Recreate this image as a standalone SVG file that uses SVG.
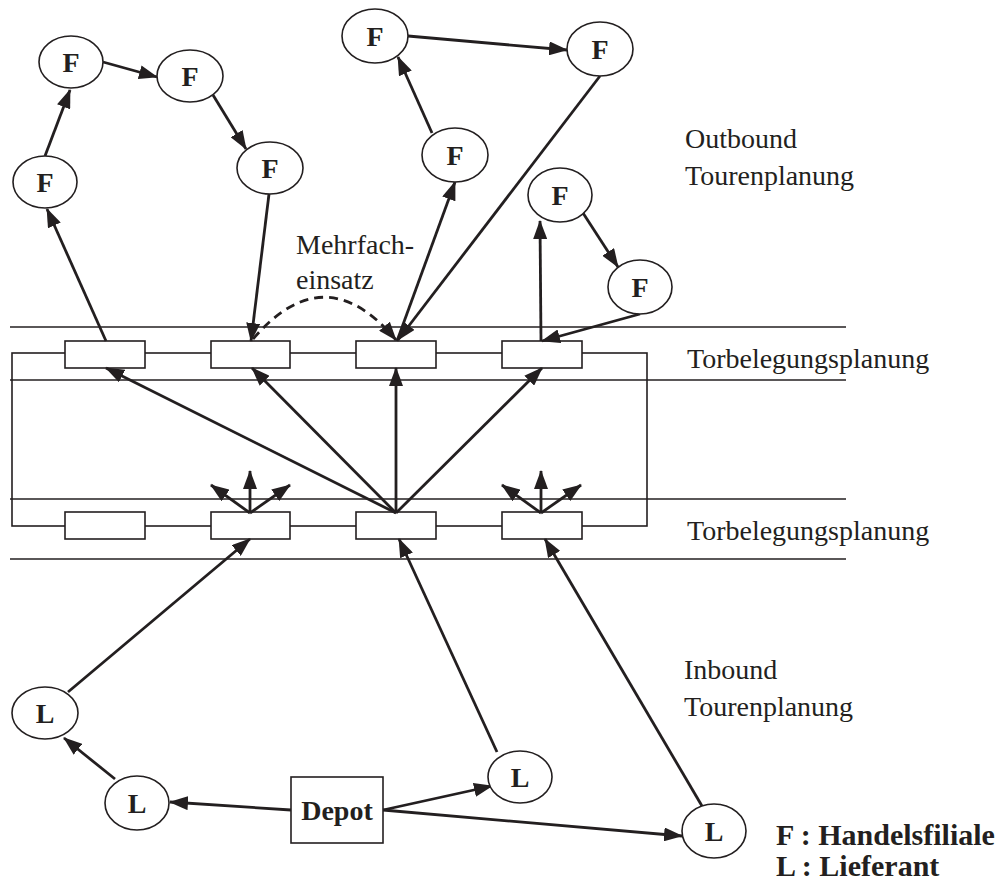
<svg xmlns="http://www.w3.org/2000/svg" width="1006" height="881" viewBox="0 0 1006 881">
  <style>
    .bg { fill: #ffffff; }
    .node { fill: #ffffff; stroke: #231f20; stroke-width: 1.6; }
    .gate { fill: #ffffff; stroke: #231f20; stroke-width: 1.6; }
    .rule { stroke: #231f20; stroke-width: 1.6; fill: none; }
    .frame { fill: none; stroke: #231f20; stroke-width: 1.6; }
    .edge { stroke: #231f20; stroke-width: 2.8; fill: none; marker-end: url(#arrow); }
    .dash { stroke: #231f20; stroke-width: 2.8; fill: none; stroke-dasharray: 9 6; marker-end: url(#arrow); }
    .lbl { font-family: "Liberation Serif", "Times New Roman", serif; font-weight: bold; font-size: 28px; fill: #231f20; text-anchor: middle; }
    .note { font-family: "Liberation Serif", "Times New Roman", serif; font-size: 28px; fill: #231f20; }
    .legend { font-family: "Liberation Serif", "Times New Roman", serif; font-weight: bold; font-size: 30px; fill: #231f20; }
  </style>
  <defs>
    <marker id="arrow" markerUnits="userSpaceOnUse" markerWidth="19" markerHeight="14" refX="18" refY="7" orient="auto">
      <path d="M0,0 L19,7 L0,14 z" fill="#231f20"/>
    </marker>
  </defs>

  <rect class="bg" x="0" y="0" width="1006" height="881"/>

  <!-- planning layers: horizontal rules and the yard frame -->
  <g id="layers">
    <line class="rule" x1="10" y1="327" x2="846" y2="327"/>
    <line class="rule" x1="10" y1="380" x2="846" y2="380"/>
    <line class="rule" x1="10" y1="499" x2="846" y2="499"/>
    <line class="rule" x1="10" y1="559" x2="846" y2="559"/>
    <rect class="frame" x="12" y="353" width="635" height="173"/>
  </g>

  <!-- outbound gates -->
  <g id="gate-out-1"><rect class="gate" x="65" y="341" width="80" height="27"/></g>
  <g id="gate-out-2"><rect class="gate" x="211" y="341" width="79" height="27"/></g>
  <g id="gate-out-3"><rect class="gate" x="356" y="341" width="80" height="27"/></g>
  <g id="gate-out-4"><rect class="gate" x="502" y="341" width="80" height="27"/></g>

  <!-- inbound gates -->
  <g id="gate-in-1"><rect class="gate" x="65" y="512" width="80" height="27"/></g>
  <g id="gate-in-2"><rect class="gate" x="211" y="512" width="79" height="27"/></g>
  <g id="gate-in-3"><rect class="gate" x="356" y="512" width="80" height="27"/></g>
  <g id="gate-in-4"><rect class="gate" x="502" y="512" width="80" height="27"/></g>

  <!-- connectors -->
  <g id="connectors">
    <!-- outbound tours -->
    <line class="edge" x1="106" y1="341" x2="47" y2="209"/>
    <line class="edge" x1="45" y1="156" x2="70" y2="90"/>
    <line class="edge" x1="103" y1="62" x2="157" y2="77"/>
    <line class="edge" x1="213" y1="95" x2="246" y2="149"/>
    <line class="edge" x1="269" y1="194" x2="251" y2="341"/>

    <line class="edge" x1="397" y1="341" x2="455" y2="182"/>
    <line class="edge" x1="432" y1="133" x2="398" y2="57"/>
    <line class="edge" x1="408" y1="36" x2="567" y2="50"/>
    <line class="edge" x1="600" y1="76" x2="398" y2="340"/>

    <line class="edge" x1="541" y1="341" x2="540" y2="221"/>
    <line class="edge" x1="583" y1="213" x2="618" y2="267"/>
    <line class="edge" x1="640" y1="314" x2="542" y2="341"/>

    <!-- multiple use of one vehicle -->
    <path class="dash" d="M 253 339 Q 325 255 396 340"/>

    <!-- cross-docking transfers -->
    <line class="edge" x1="396" y1="513" x2="106" y2="368"/>
    <line class="edge" x1="396" y1="513" x2="252" y2="368"/>
    <line class="edge" x1="396" y1="513" x2="396" y2="368"/>
    <line class="edge" x1="396" y1="513" x2="542" y2="368"/>

    <line class="edge" x1="250" y1="513" x2="211" y2="485"/>
    <line class="edge" x1="250" y1="513" x2="250" y2="471"/>
    <line class="edge" x1="250" y1="513" x2="290" y2="485"/>
    <line class="edge" x1="541" y1="513" x2="502" y2="485"/>
    <line class="edge" x1="541" y1="513" x2="541" y2="471"/>
    <line class="edge" x1="541" y1="513" x2="581" y2="485"/>

    <!-- inbound tours -->
    <line class="edge" x1="291" y1="810" x2="170" y2="802"/>
    <line class="edge" x1="115" y1="779" x2="64" y2="738"/>
    <line class="edge" x1="68" y1="692" x2="250" y2="539"/>
    <line class="edge" x1="383" y1="810" x2="492" y2="786"/>
    <line class="edge" x1="497" y1="752" x2="399" y2="539"/>
    <line class="edge" x1="383" y1="810" x2="682" y2="836"/>
    <line class="edge" x1="702" y1="806" x2="545" y2="539"/>
  </g>

  <!-- stores -->
  <g id="f-a"><ellipse class="node" cx="45" cy="182" rx="32" ry="26"/><text class="lbl" x="45" y="192">F</text></g>
  <g id="f-b"><ellipse class="node" cx="71" cy="62" rx="32" ry="26"/><text class="lbl" x="71" y="72">F</text></g>
  <g id="f-c"><ellipse class="node" cx="190" cy="76" rx="33" ry="26"/><text class="lbl" x="190" y="86">F</text></g>
  <g id="f-d"><ellipse class="node" cx="270" cy="168" rx="33" ry="26"/><text class="lbl" x="270" y="178">F</text></g>
  <g id="f-e"><ellipse class="node" cx="375" cy="36" rx="33" ry="27"/><text class="lbl" x="375" y="46">F</text></g>
  <g id="f-f"><ellipse class="node" cx="600" cy="49" rx="33" ry="27"/><text class="lbl" x="600" y="59">F</text></g>
  <g id="f-g"><ellipse class="node" cx="455" cy="155" rx="33" ry="27"/><text class="lbl" x="455" y="165">F</text></g>
  <g id="f-h"><ellipse class="node" cx="560" cy="195" rx="32" ry="27"/><text class="lbl" x="560" y="205">F</text></g>
  <g id="f-i"><ellipse class="node" cx="640" cy="287" rx="32" ry="27"/><text class="lbl" x="640" y="297">F</text></g>

  <!-- suppliers and depot -->
  <g id="l-a"><ellipse class="node" cx="45" cy="713" rx="33" ry="26"/><text class="lbl" x="45" y="723">L</text></g>
  <g id="l-b"><ellipse class="node" cx="137" cy="803" rx="32" ry="27"/><text class="lbl" x="137" y="813">L</text></g>
  <g id="l-c"><ellipse class="node" cx="520" cy="777" rx="32" ry="26"/><text class="lbl" x="520" y="787">L</text></g>
  <g id="l-d"><ellipse class="node" cx="714" cy="831" rx="32" ry="27"/><text class="lbl" x="714" y="841">L</text></g>
  <g id="depot"><rect class="node" x="291" y="777" width="92" height="66"/><text class="lbl" x="337" y="820">Depot</text></g>

  <!-- layer captions -->
  <g id="captions">
    <text class="note" x="685" y="148">Outbound</text>
    <text class="note" x="685" y="185">Tourenplanung</text>
    <text class="note" x="296" y="254">Mehrfach-</text>
    <text class="note" x="296" y="289">einsatz</text>
    <text class="note" x="687" y="368">Torbelegungsplanung</text>
    <text class="note" x="687" y="540">Torbelegungsplanung</text>
    <text class="note" x="684" y="679">Inbound</text>
    <text class="note" x="684" y="716">Tourenplanung</text>
  </g>

  <g id="legend">
    <text class="legend" x="776" y="845">F : Handelsfiliale</text>
    <text class="legend" x="776" y="876">L : Lieferant</text>
  </g>
</svg>
